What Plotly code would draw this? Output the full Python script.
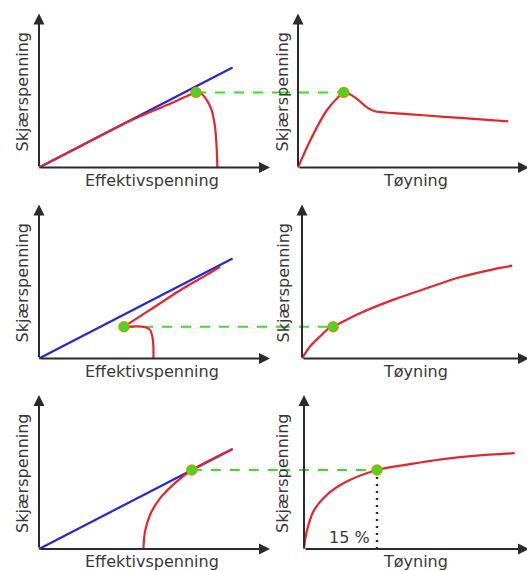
import plotly.graph_objects as go

# ---- data (effective stress / shear stress units; strain in %) ----
# Failure envelope (same in every left-hand panel)
envelope_x = [0.0, 9.68]
envelope_y = [0.0, 5.0]

# Row 1: dilatant soil with a peak
path1_x = [0.0, 2.0, 4.4, 5.5, 6.4, 7.3, 7.85, 8.13, 8.38, 8.63, 8.8, 8.88, 8.92]
path1_y = [0.0, 1.03, 2.26, 2.75, 3.12, 3.52, 3.75, 3.68, 3.38, 2.88, 2.04, 1.04, 0.0]
peak1 = (7.85, 3.75)
strain1 = [0.0, 2.5, 5.9, 8.6, 9.4, 10.4, 12.1, 14.1, 15.8, 19.6, 26.4, 33.3, 43.2]
stress1 = [0.0, 1.35, 2.85, 3.6, 3.75, 3.7, 3.43, 3.02, 2.81, 2.72, 2.6, 2.48, 2.31]
peak1_strain = 9.4

# Row 2: contractant soil, path turns back then climbs the envelope
path2a_x = [5.72, 5.72, 5.67, 5.55, 5.3, 4.88, 4.47, 4.25]
path2a_y = [0.0, 0.58, 1.08, 1.43, 1.56, 1.61, 1.59, 1.59]
path2b_x = [4.25, 5.55, 7.22, 8.38, 9.05]
path2b_y = [1.59, 2.43, 3.51, 4.18, 4.59]
point2 = (4.25, 1.59)
strain2 = [0.0, 1.64, 3.7, 5.3, 6.4, 8.5, 11.9, 18.7, 25.6, 32.4, 39.3, 43.2]
stress2 = [0.0, 0.6, 1.1, 1.47, 1.59, 1.85, 2.26, 2.93, 3.51, 4.06, 4.46, 4.64]
point2_strain = 6.4

# Row 3: failure defined at 15 % strain
path3_x = [5.22, 5.3, 5.55, 6.05, 6.88, 7.64, 9.68]
path3_y = [0.0, 0.87, 1.7, 2.53, 3.37, 3.95, 5.0]
point3 = (7.64, 3.95)
strain3 = [0.0, 0.25, 0.55, 1.9, 4.66, 8.77, 15.0, 21.8, 28.6, 35.5, 43.3]
stress3 = [0.0, 0.5, 0.87, 1.87, 2.7, 3.37, 3.95, 4.24, 4.49, 4.67, 4.79]
strain_limit = 15.0

# ---- colours / styling ----
RED = "#e3262c"
BLUE = "#2626d2"
GREEN = "#3ddc2a"
DOT_EDGE = "#c99a00"
AXIS = "#2b2b2b"
TEXT = "#383838"
FONT = "DejaVu Sans"

W, H = 527, 571
SCALE_Y = 20.0      # px per shear-stress unit
SCALE_L = 20.0      # px per effective-stress unit
SCALE_R = 73.0 / 15.0  # px per % strain
SPLIT = 280         # column boundary (px)
ROW_BOX = [(0, 190), (190, 380), (380, 571)]
ROW_ORIGIN_Y = [167.5, 358.5, 549.0]
LEFT_ORIGIN_X = 39.0
RIGHT_ORIGIN_X = [298.0, 302.0, 304.0]
Y_TIP = 7.7
LINK_DASH = "10px,9px"

fig = go.Figure()
layout_axes = {}


def set_axes(idx, px0, px1, ox, sx, row):
    top, bot = ROW_BOX[row]
    oy = ROW_ORIGIN_Y[row]
    xname = "xaxis" if idx == 1 else f"xaxis{idx}"
    yname = "yaxis" if idx == 1 else f"yaxis{idx}"
    layout_axes[xname] = dict(domain=[px0 / W, px1 / W],
                              range=[(px0 - ox) / sx, (px1 - ox) / sx],
                              visible=False, fixedrange=True,
                              anchor=f"y{'' if idx == 1 else idx}")
    layout_axes[yname] = dict(domain=[1 - bot / H, 1 - top / H],
                              range=[(oy - bot) / SCALE_Y, (oy - top) / SCALE_Y],
                              visible=False, fixedrange=True,
                              anchor=f"x{'' if idx == 1 else idx}")


def refs(idx):
    s = "" if idx == 1 else str(idx)
    return "x" + s, "y" + s


def line(idx, x, y, color, width=2.2, dash="solid", shape="spline"):
    xr, yr = refs(idx)
    fig.add_trace(go.Scatter(x=x, y=y, mode="lines", xaxis=xr, yaxis=yr,
                             line=dict(color=color, width=width, dash=dash,
                                       shape=shape, smoothing=0.8),
                             hoverinfo="skip", showlegend=False))


def dot(idx, x, y):
    xr, yr = refs(idx)
    fig.add_trace(go.Scatter(x=[x], y=[y], mode="markers", xaxis=xr, yaxis=yr,
                             marker=dict(size=10, color=GREEN,
                                         line=dict(color=DOT_EDGE, width=1.5)),
                             hoverinfo="skip", showlegend=False))


annotations = []


def axes_arrows(idx, x_tip):
    xr, yr = refs(idx)
    for (tx, ty) in [(x_tip, 0.0), (0.0, Y_TIP)]:
        annotations.append(dict(x=tx, y=ty, ax=0.0, ay=0.0, xref=xr, yref=yr,
                                axref=xr, ayref=yr, text="", showarrow=True,
                                arrowhead=2, arrowsize=1.1, arrowwidth=2,
                                arrowcolor=AXIS, standoff=0, startstandoff=0))


def label(idx, x, y, text, angle=0, xanchor="center", yanchor="middle",
          xshift=0, yshift=0):
    xr, yr = refs(idx)
    annotations.append(dict(x=x, y=y, xref=xr, yref=yr, text=text,
                            showarrow=False, textangle=angle,
                            xanchor=xanchor, yanchor=yanchor,
                            xshift=xshift, yshift=yshift,
                            font=dict(family=FONT, size=16, color=TEXT)))


rows = [
    dict(paths=[(path1_x, path1_y)], point=peak1,
         strain=strain1, stress=stress1, pstrain=peak1_strain),
    dict(paths=[(path2a_x, path2a_y), (path2b_x, path2b_y)], point=point2,
         strain=strain2, stress=stress2, pstrain=point2_strain),
    dict(paths=[(path3_x, path3_y)], point=point3,
         strain=strain3, stress=stress3, pstrain=strain_limit),
]

left_xmax = (SPLIT - LEFT_ORIGIN_X) / SCALE_L
left_tip = (270 - LEFT_ORIGIN_X) / SCALE_L
y_label_shift_right = [-16, -19, -22]

for r, row in enumerate(rows):
    li = 2 * r + 1
    ri = 2 * r + 2
    rox = RIGHT_ORIGIN_X[r]
    set_axes(li, 0, SPLIT, LEFT_ORIGIN_X, SCALE_L, r)
    set_axes(ri, SPLIT, W, rox, SCALE_R, r)
    right_xmin = (SPLIT - rox) / SCALE_R
    right_tip = (W + 2 - rox) / SCALE_R

    px, py = row["point"]
    # green dashed link between the two panels
    line(li, [px, left_xmax], [py, py], GREEN, width=2, dash=LINK_DASH, shape="linear")
    line(ri, [right_xmin, row["pstrain"]], [py, py], GREEN, width=2,
         dash=LINK_DASH, shape="linear")

    # left: envelope and stress path
    line(li, envelope_x, envelope_y, BLUE, width=2.2, shape="linear")
    for (xs, ys) in row["paths"]:
        line(li, xs, ys, RED)
    dot(li, px, py)

    # right: stress-strain curve
    if r == 2:
        line(ri, [strain_limit, strain_limit], [0, py], AXIS, width=2.4,
             dash="2px,5px", shape="linear")
    line(ri, row["strain"], row["stress"], RED)
    dot(ri, row["pstrain"], py)

    axes_arrows(li, left_tip)
    axes_arrows(ri, right_tip)

    label(li, 0, 3.8, "Skjærspenning", angle=-90, xshift=-17)
    label(ri, 0, 3.8, "Skjærspenning", angle=-90, xshift=y_label_shift_right[r])
    label(li, (152 - LEFT_ORIGIN_X) / SCALE_L, 0, "Effektivspenning",
          yanchor="top", yshift=-1)
    label(ri, (415 - rox) / SCALE_R, 0, "Tøyning", yanchor="top", yshift=-1)

label(6, strain_limit, 0.6, "15 %", xanchor="right", xshift=-5)

fig.update_layout(width=W, height=H, autosize=False,
                  margin=dict(l=0, r=0, t=0, b=0),
                  paper_bgcolor="white", plot_bgcolor="rgba(0,0,0,0)",
                  annotations=annotations, **layout_axes)

fig.write_html("out.html", config={"displayModeBar": False})
